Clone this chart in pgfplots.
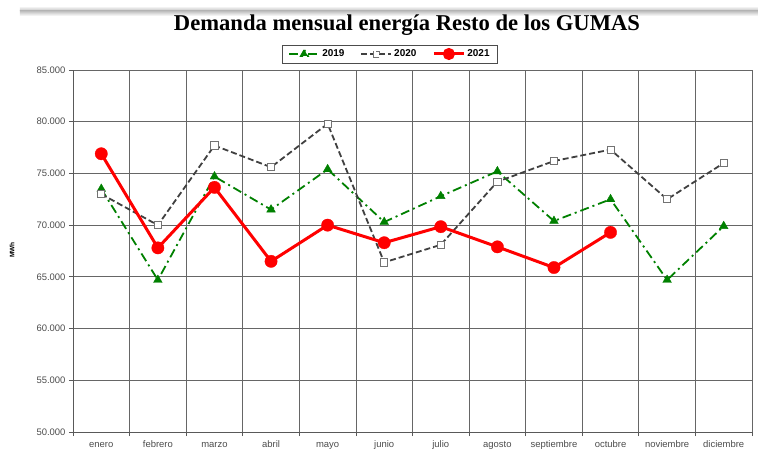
\documentclass[border=0pt]{standalone}
\usepackage{fontspec}
\setmainfont{Liberation Sans}
\newfontfamily\titlefont{Liberation Serif}
\usepackage{pgfplots}
\pgfplotsset{compat=1.18}
\definecolor{g19}{RGB}{0,128,0}
\definecolor{k20}{RGB}{64,64,64}
\definecolor{r21}{RGB}{255,0,0}
\begin{document}
\begin{tikzpicture}
\useasboundingbox (-73bp,-34bp) rectangle (685bp,432bp);
\shade[top color=white,bottom color=black!25] (-53bp,421bp) rectangle (685bp,426bp);
\shade[top color=black!25,bottom color=white] (-53bp,416bp) rectangle (685bp,421bp);
\begin{axis}[
  width=679bp, height=362bp, scale only axis,
  xmin=0.5, xmax=12.5, ymin=50000, ymax=85000,
  xtick={0.5,1.5,...,12.5},
  x tick label as interval,
  xticklabels={enero,febrero,marzo,abril,mayo,junio,julio,agosto,septiembre,octubre,noviembre,diciembre},
  xticklabel style={text height=1.6ex, text depth=0.3ex},
  ytick={50000,55000,...,85000},
  scaled y ticks=false,
  /pgf/number format/.cd, 1000 sep={.}, fixed, assume math mode=true, /pgfplots/.cd,
  grid=major,
  grid style={line width=0.8bp, color=black!60},
  axis lines=left, axis line style={-, line width=0.9bp, black!65},
  tick align=outside, major tick length=4bp,
  tick style={black!65, line width=0.8bp},
  ticklabel style={font=\fontsize{9.5}{11}\selectfont, text=black!70},
  ylabel={MWh},
  ylabel style={font=\bfseries\fontsize{6.5}{7}\selectfont, at={(axis description cs:-0.0898,0.503)}, anchor=center},
  legend style={at={(0.4669,1.0442)}, anchor=center, legend columns=3, draw=black!70,
    font=\bfseries\fontsize{10}{12}\selectfont, inner xsep=6bp, inner ysep=3bp,
    /tikz/every even column/.append style={column sep=14bp}},
  legend cell align=left,
]
\addplot[g19, line width=1.8bp, dash pattern=on 9bp off 4bp on 2bp off 4bp,
  mark=triangle*, mark size=5bp, mark options={solid, fill=g19, line width=0.4bp},
  legend image code/.code={\draw[g19, line width=1.8bp, dash pattern=on 9bp off 4bp on 2bp off 4bp] (0bp,0bp) -- (30bp,0bp);
     \path[fill=g19] (15bp,0bp) +(90:4bp) -- +(210:4bp) -- +(330:4bp) -- cycle;}] coordinates {
  (1,73500) (2,64700) (3,74700) (4,71500) (5,75400) (6,70300)
  (7,72800) (8,75200) (9,70400) (10,72500) (11,64700) (12,69900)};
\addlegendentry{2019}
\addplot[k20, line width=1.8bp, dash pattern=on 6bp off 3bp,
  mark=square*, mark size=3.6bp, mark options={solid, draw=black!55, fill=white, line width=0.8bp},
  legend image code/.code={\draw[k20, line width=1.8bp, dash pattern=on 6bp off 3bp] (0bp,0bp) -- (30bp,0bp);
     \draw[black!55, fill=white, line width=0.7bp] (12bp,-3bp) rectangle (18bp,3bp);}] coordinates {
  (1,73000) (2,70000) (3,77700) (4,75600) (5,79800) (6,66400)
  (7,68100) (8,74200) (9,76200) (10,77300) (11,72500) (12,76000)};
\addlegendentry{2020}
\addplot[r21, line width=3bp,
  mark=*, mark size=6.2bp, mark options={solid, fill=r21, draw=r21, line width=0.3bp},
  legend image code/.code={\draw[r21, line width=3bp] (0bp,0bp) -- (30bp,0bp);
     \fill[r21] (15bp,0bp) circle (4.5bp);}] coordinates {
  (1,76900) (2,67800) (3,73650) (4,66500) (5,70000) (6,68300)
  (7,69850) (8,67900) (9,65900) (10,69300)};
\addlegendentry{2021}
\end{axis}
\node[font=\titlefont\bfseries\fontsize{22.7}{27}\selectfont] at (334bp,407bp) {Demanda mensual energía Resto de los GUMAS};
\end{tikzpicture}
\end{document}
